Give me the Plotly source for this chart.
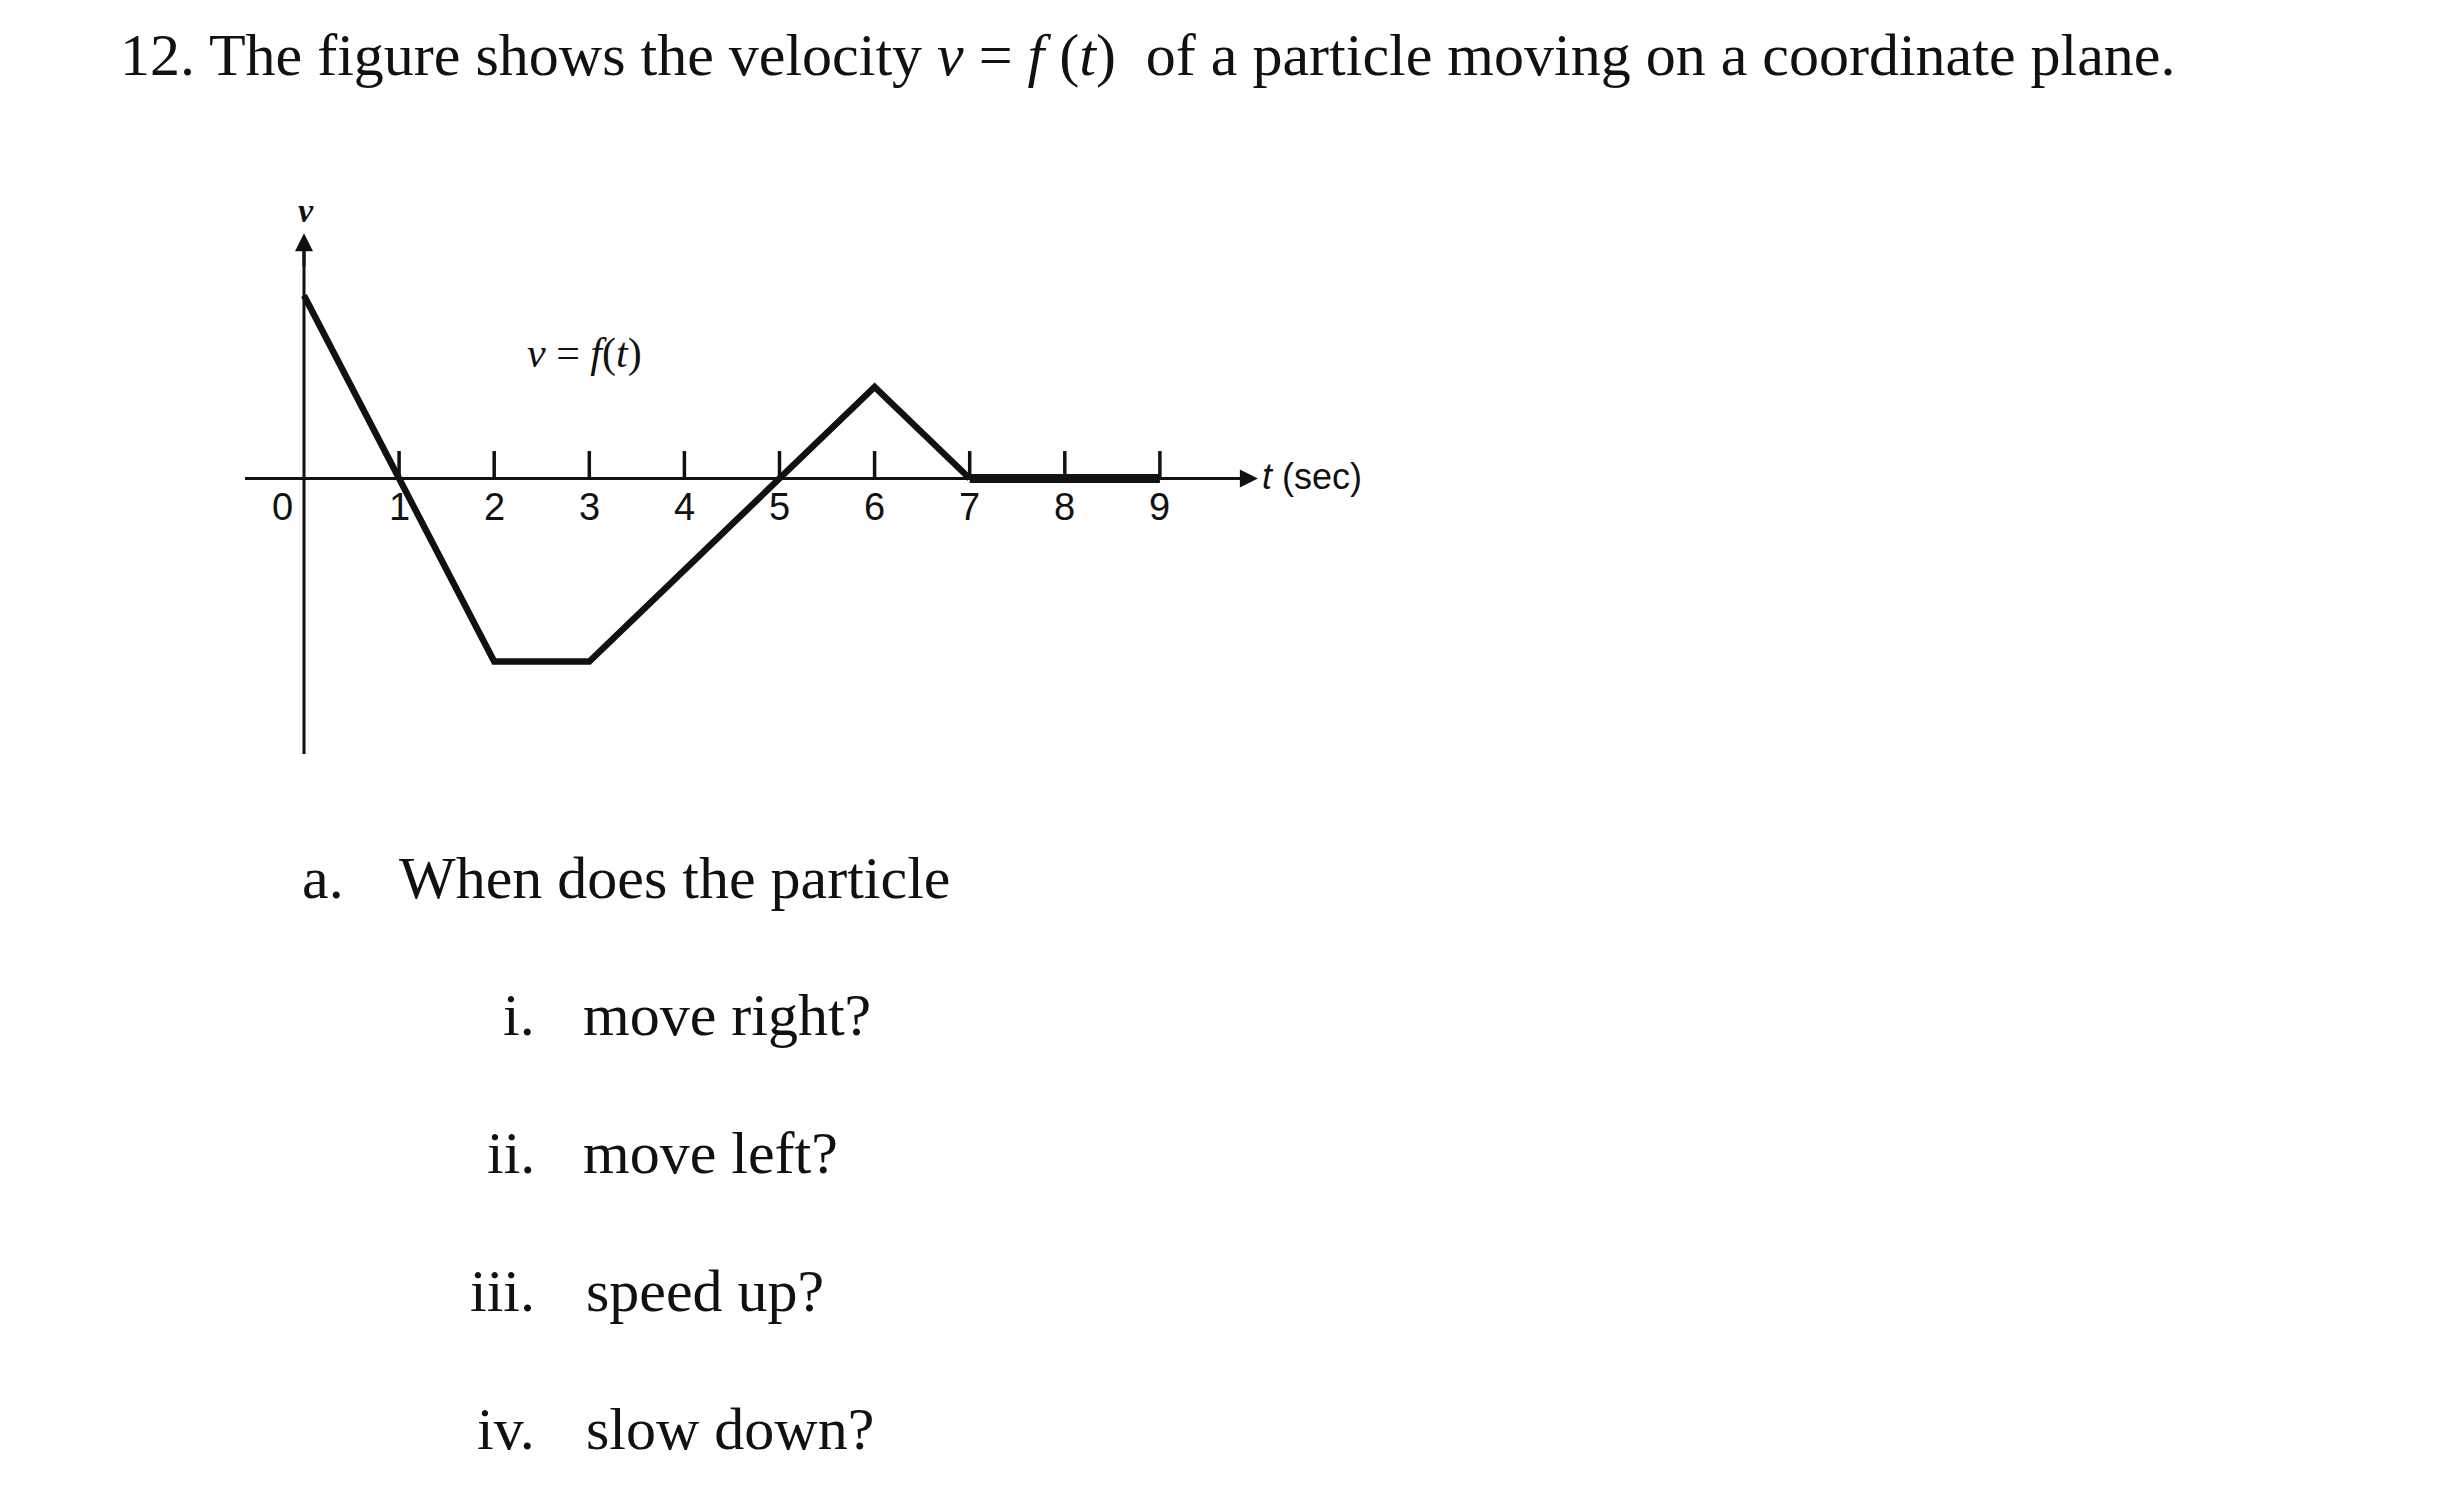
import plotly.graph_objects as go

# ---- data ----
t_points = [0, 1, 2, 3, 5, 6, 7]
v_points = [2, 0, -2, -2, 0, 1, 0]
t_rest = [7, 9]
v_rest = [0, 0]
tick_values = [1, 2, 3, 4, 5, 6, 7, 8, 9]
tick_labels = ["1", "2", "3", "4", "5", "6", "7", "8", "9"]

title_text = "12. The figure shows the velocity <i>v</i> = <i>f</i> (<i>t</i>)  of a particle moving on a coordinate plane."
questions = [
    ("a.", "When does the particle"),
    ("i.", "move right?"),
    ("ii.", "move left?"),
    ("iii.", "speed up?"),
    ("iv.", "slow down?"),
]

W, H = 2444, 1504
# pixel mapping of the chart
X0, SX = 304.0, 95.1      # pixel of t=0, px per unit
Y0, SY = 478.5, 91.5      # pixel of v=0, px per unit
xr = [-X0 / SX, (W - X0) / SX]
yr = [(Y0 - H) / SY, Y0 / SY]

fig = go.Figure()
BLACK = "#111111"

# axes lines
fig.add_trace(go.Scatter(x=[-0.62, 9.95], y=[0, 0], mode="lines",
                         line=dict(color=BLACK, width=3), hoverinfo="skip"))
fig.add_trace(go.Scatter(x=[0, 0], y=[-3.01, 2.62], mode="lines",
                         line=dict(color=BLACK, width=3), hoverinfo="skip"))
# tick marks
tx, ty = [], []
for t in tick_values:
    tx += [t, t, None]
    ty += [0, 0.3, None]
fig.add_trace(go.Scatter(x=tx, y=ty, mode="lines",
                         line=dict(color=BLACK, width=3.5), hoverinfo="skip"))
# curve
fig.add_trace(go.Scatter(x=t_points, y=v_points, mode="lines",
                         line=dict(color=BLACK, width=6.5), hoverinfo="skip"))
fig.add_trace(go.Scatter(x=t_rest, y=v_rest, mode="lines",
                         line=dict(color=BLACK, width=9), hoverinfo="skip"))

ann = []
# arrowheads
ann.append(dict(x=0, y=2.68, ax=0, ay=2.3, xref="x", yref="y", axref="x", ayref="y",
                showarrow=True, arrowhead=2, arrowsize=1.2, arrowwidth=3, arrowcolor=BLACK, text=""))
ann.append(dict(x=10.03, y=0, ax=9.6, ay=0, xref="x", yref="y", axref="x", ayref="y",
                showarrow=True, arrowhead=2, arrowsize=1.2, arrowwidth=3, arrowcolor=BLACK, text=""))
# tick labels
TK = dict(family="Liberation Sans", size=38, color=BLACK)
for t, lab in zip(tick_values, tick_labels):
    ann.append(dict(x=t, y=-0.31, xref="x", yref="y", text=lab, showarrow=False, font=TK))
ann.append(dict(x=-0.23, y=-0.31, xref="x", yref="y", text="0", showarrow=False, font=TK))
# axis labels
ann.append(dict(x=0.02, y=2.93, xref="x", yref="y", text="<b><i>v</i></b>", showarrow=False,
                font=dict(family="Liberation Serif", size=34, color=BLACK)))
ann.append(dict(x=10.05, y=0.02, xref="x", yref="y", text="<i>t</i> (sec)", showarrow=False,
                xanchor="left", font=dict(family="Liberation Sans", size=36, color=BLACK)))
ann.append(dict(x=2.95, y=1.37, xref="x", yref="y", text="<i>v</i> = <i>f</i>(<i>t</i>)", showarrow=False,
                font=dict(family="Liberation Serif", size=42, color=BLACK)))

# page text
def px(x, y):
    return x / W, 1 - y / H

TF = dict(family="Liberation Serif", size=60, color=BLACK)
x, y = px(118, 55)
ann.append(dict(x=x, y=y, xref="paper", yref="paper", text=title_text, showarrow=False,
                xanchor="left", yanchor="middle", font=TF))

q_rows = [(335, 397, 878), (537, 581, 1015), (537, 581, 1153), (537, 584, 1291), (537, 584, 1429)]
for (num, txt), (xn, xt, yq) in zip(questions, q_rows):
    if num == "a.":
        a, b = px(300, yq)
        ann.append(dict(x=a, y=b, xref="paper", yref="paper", text=num, showarrow=False,
                        xanchor="left", yanchor="middle", font=TF))
    else:
        a, b = px(xn, yq)
        ann.append(dict(x=a, y=b, xref="paper", yref="paper", text=num, showarrow=False,
                        xanchor="right", yanchor="middle", font=TF))
    a, b = px(xt, yq)
    ann.append(dict(x=a, y=b, xref="paper", yref="paper", text=txt, showarrow=False,
                    xanchor="left", yanchor="middle", font=TF))

fig.update_layout(
    width=W, height=H, margin=dict(l=0, r=0, t=0, b=0),
    paper_bgcolor="white", plot_bgcolor="white", showlegend=False,
    xaxis=dict(range=xr, visible=False, fixedrange=True),
    yaxis=dict(range=yr, visible=False, fixedrange=True),
    annotations=ann,
)

fig.write_html("out.html", config={"displayModeBar": False},
               post_script="document.body.style.margin='0';")
